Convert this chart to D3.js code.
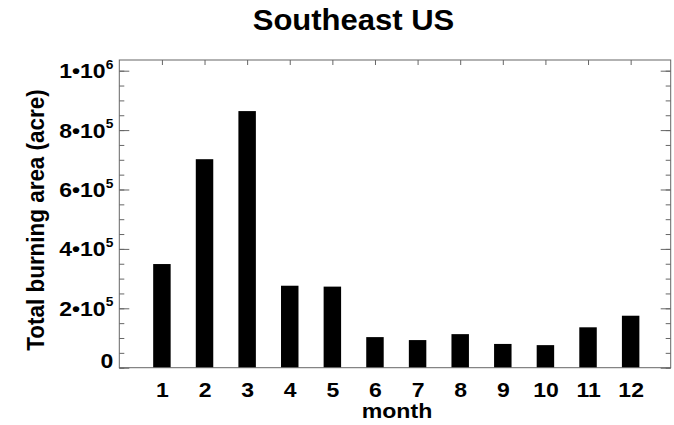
<!DOCTYPE html>
<html><head><meta charset="utf-8">
<script src="https://cdn.jsdelivr.net/npm/d3@7"></script>
<style>
html,body{margin:0;padding:0;background:#fff;}
svg{display:block;font-family:"Liberation Sans",Arial,Helvetica,sans-serif;font-weight:bold;}
</style></head>
<body>
<svg id="chart" width="674" height="425"></svg>
<script>
const title = "Southeast US";
const xTitle = "month";
const yTitle = "Total burning area (acre)";
const months = [1,2,3,4,5,6,7,8,9,10,11,12];
const monthLabels = ["1","2","3","4","5","6","7","8","9","10","11","12"];
const burnedArea = [349000,702000,864000,276000,273000,103000,93000,113000,80000,76000,136000,175000];
const yMajorTicks = [0,200000,400000,600000,800000,1000000];
const yTickMantissa = ["0","2","4","6","8","1"];
const yTickExponent = ["","5","5","5","5","6"];
const yMinorTicks = d3.range(0, 1000001, 50000);

const svg = d3.select("#chart");
const L = 119.3, R = 670.7, T = 60, B = 367.7;
const x = d3.scaleLinear().domain([0, 12.94]).range([L, R]);
const y = d3.scaleLinear().domain([0, 1036000]).range([B, T]);
const barW = 0.41;
const lineCol = "#666";
const stretch = 1.15;

// bars
svg.append("g").selectAll("rect").data(months).join("rect")
  .attr("x", (d) => x(d - barW/2))
  .attr("width", (d) => x(d + barW/2) - x(d - barW/2))
  .attr("y", (d,i) => y(burnedArea[i]))
  .attr("height", (d,i) => y(0) - y(burnedArea[i]))
  .attr("fill", "#000");

function styleAxis(g){
  g.select(".domain").remove();
  g.selectAll(".tick line").attr("stroke", lineCol).attr("stroke-width", 1);
}

// left minor & major ticks
svg.append("g").attr("transform", `translate(${L},0)`)
  .call(d3.axisLeft(y).tickValues(yMinorTicks).tickSize(-5).tickFormat(""))
  .call(styleAxis);
const leftMajor = svg.append("g").attr("transform", `translate(${L},0)`)
  .call(d3.axisLeft(y).tickValues(yMajorTicks).tickSize(-10).tickFormat(""))
  .call(styleAxis);
leftMajor.selectAll(".tick text").remove();
leftMajor.selectAll(".tick").each(function(d, i){
  const dyBase = (d === 0) ? 0 : 7;
  const t = d3.select(this).append("text")
    .attr("transform", `translate(-6,${dyBase}) scale(${stretch},1)`)
    .attr("text-anchor", "end").attr("fill", "#000")
    .style("font-size", "20px").style("font-weight", "bold");
  if (yTickExponent[i] === "") {
    t.text(yTickMantissa[i]);
  } else {
    t.append("tspan").text(yTickMantissa[i] + "\u2022" + "10");
    t.append("tspan").attr("dy", -9.4).style("font-size", "12px").text(yTickExponent[i]);
  }
});

// right ticks
svg.append("g").attr("transform", `translate(${R},0)`)
  .call(d3.axisRight(y).tickValues(yMinorTicks).tickSize(-5).tickFormat(""))
  .call(styleAxis);
svg.append("g").attr("transform", `translate(${R},0)`)
  .call(d3.axisRight(y).tickValues(yMajorTicks).tickSize(-10).tickFormat(""))
  .call(styleAxis);

// top ticks
svg.append("g").attr("transform", `translate(0,${T})`)
  .call(d3.axisTop(x).tickValues(months).tickSize(-5).tickFormat(""))
  .call(styleAxis);

// bottom labels
const bottom = svg.append("g").attr("transform", `translate(0,${B})`)
  .call(d3.axisBottom(x).tickValues(months).tickSize(0).tickFormat(""))
  .call(styleAxis);
bottom.selectAll(".tick text").remove();
bottom.selectAll(".tick").append("text")
  .attr("transform", `translate(0,29) scale(${stretch},1)`)
  .attr("text-anchor", "middle").attr("fill", "#000")
  .style("font-size", "20px").style("font-weight", "bold")
  .text((d,i) => monthLabels[i]);

// frame
svg.append("rect").attr("x", L).attr("y", T).attr("width", R - L).attr("height", B - T)
  .attr("fill", "none").attr("stroke", lineCol).attr("stroke-width", 1);

// titles
svg.append("text").attr("transform", "translate(353.5,30) scale(1.07,1)").attr("text-anchor", "middle")
  .style("font-size", "29px").text(title);
svg.append("text").attr("transform", "translate(397,418) scale(1.1,1)").attr("text-anchor", "middle")
  .style("font-size", "21px").text(xTitle);
svg.append("text").attr("transform", "translate(44,220) rotate(-90) scale(1.02,1.05)")
  .attr("text-anchor", "middle").style("font-size", "22px").text(yTitle);
</script>
</body></html>
